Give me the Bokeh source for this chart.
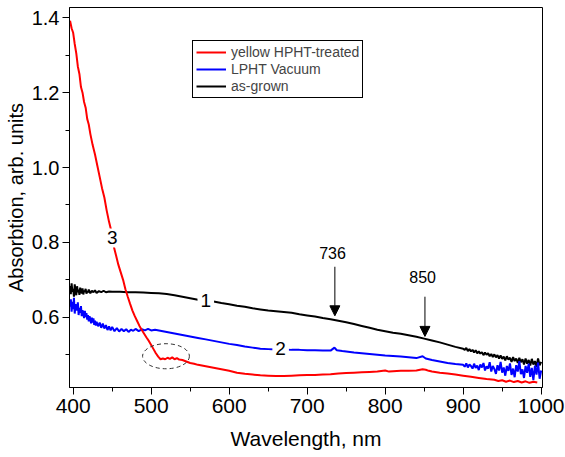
from bokeh.plotting import figure
from bokeh.models import (Range1d, FixedTicker, Label, Legend, LegendItem, Arrow,
                          NormalHead, NumeralTickFormatter)
from bokeh.embed import file_html
from bokeh.resources import INLINE

# ---------------- data ----------------
wl_red = [396, 398, 400, 402, 404, 406, 408, 410, 412, 414, 416, 418, 420, 422, 425, 428, 431, 434, 437,
          440, 443, 446, 449, 452, 455, 458, 461, 464, 467, 470, 473, 476, 479, 482, 485, 488, 491, 494,
          497, 500, 503, 506, 509, 512, 515, 518, 521, 524, 527, 530, 533, 536, 540, 545, 550, 555, 560,
          565, 570, 575, 580, 590, 600, 610, 620, 630, 640, 650, 660, 670, 680, 690, 700, 710, 720, 730,
          740, 750, 760, 770, 780, 790, 800, 805, 810, 820, 830, 840, 848, 852, 856, 860, 870, 880, 890,
          900, 910, 920, 930, 940, 945, 950, 955, 960, 965, 970, 975, 980, 985, 990, 995]
abs_red = [1.392, 1.372, 1.36, 1.33, 1.305, 1.27, 1.25, 1.215, 1.2, 1.175, 1.16, 1.13, 1.115, 1.09, 1.06,
           1.035, 1.005, 0.975, 0.945, 0.92, 0.885, 0.855, 0.83, 0.79, 0.765, 0.74, 0.72, 0.70, 0.675,
           0.655, 0.636, 0.618, 0.603, 0.59, 0.577, 0.566, 0.556, 0.546, 0.537, 0.526, 0.515, 0.504,
           0.495, 0.488, 0.490, 0.488, 0.492, 0.489, 0.493, 0.488, 0.491, 0.487, 0.486, 0.482, 0.478,
           0.476, 0.473, 0.471, 0.469, 0.467, 0.465, 0.461, 0.457, 0.452, 0.449, 0.447, 0.445, 0.444,
           0.443, 0.443, 0.444, 0.445, 0.446, 0.446, 0.447, 0.448, 0.450, 0.451, 0.452, 0.453, 0.454,
           0.455, 0.458, 0.455, 0.456, 0.457, 0.457, 0.458, 0.461, 0.460, 0.457, 0.455, 0.452, 0.450,
           0.447, 0.444, 0.441, 0.438, 0.435, 0.433, 0.430, 0.432, 0.428, 0.431, 0.427, 0.430, 0.426,
           0.429, 0.425, 0.428, 0.426]

wl_blue = [396, 397, 398, 399, 400, 401, 402, 403, 404, 405, 406, 407, 408, 409, 410, 411, 412, 413, 414,
           415, 416, 417, 418, 419, 420, 421, 422, 423, 424, 425, 426, 427, 428, 429, 430, 432, 434, 436,
           438, 440, 442, 444, 446, 448, 450, 453, 456, 459, 462, 465, 468, 471, 474, 477, 480, 484, 488,
           492, 496, 500, 505, 510, 515, 520, 525, 530, 540, 550, 560, 570, 580, 590, 600, 610, 620, 630,
           640, 650, 660, 670, 680, 690, 700, 710, 720, 730, 735, 738, 745, 760, 780, 800, 820, 840, 848,
           852, 860, 870, 880, 890, 900, 902, 904, 906, 908, 910, 912, 914, 916, 918, 920, 922, 924, 926,
           928, 930, 932, 934, 936, 938, 940, 942, 944, 946, 948, 950, 952, 954, 956, 958, 960, 962, 964,
           966, 968, 970, 972, 974, 976, 978, 980, 982, 984, 986, 988, 990, 992, 994, 996, 998, 1000]
abs_blue = [0.628, 0.648, 0.615, 0.641, 0.622, 0.652, 0.610, 0.635, 0.627, 0.618, 0.640, 0.606, 0.625,
            0.612, 0.630, 0.603, 0.619, 0.609, 0.598, 0.617, 0.601, 0.611, 0.594, 0.606, 0.589, 0.603,
            0.595, 0.584, 0.599, 0.586, 0.597, 0.580, 0.591, 0.578, 0.588, 0.576, 0.586, 0.572, 0.583,
            0.570, 0.579, 0.566, 0.576, 0.565, 0.574, 0.563, 0.571, 0.562, 0.569, 0.563, 0.568, 0.561,
            0.567, 0.564, 0.569, 0.563, 0.568, 0.565, 0.569, 0.565, 0.567, 0.565, 0.563, 0.561, 0.559,
            0.557, 0.553, 0.549, 0.545, 0.541, 0.537, 0.533, 0.529, 0.526, 0.522, 0.519, 0.516, 0.515,
            0.514, 0.514, 0.513, 0.513, 0.512, 0.512, 0.511, 0.511, 0.519, 0.512, 0.510, 0.506, 0.502,
            0.498, 0.495, 0.491, 0.496, 0.490, 0.486, 0.482, 0.478, 0.475, 0.473, 0.468, 0.477, 0.466,
            0.474, 0.470, 0.463, 0.476, 0.465, 0.471, 0.459, 0.474, 0.466, 0.478, 0.458, 0.469, 0.463,
            0.480, 0.455, 0.470, 0.462, 0.449, 0.472, 0.458, 0.481, 0.452, 0.466, 0.444, 0.470, 0.457,
            0.477, 0.446, 0.463, 0.440, 0.472, 0.455, 0.483, 0.448, 0.461, 0.438, 0.470, 0.452, 0.476,
            0.441, 0.465, 0.432, 0.471, 0.447, 0.479, 0.436, 0.458]

wl_black = [396, 397, 398, 399, 400, 401, 402, 403, 404, 405, 406, 407, 408, 409, 410, 411, 412, 413, 414,
            415, 416, 417, 418, 419, 420, 422, 424, 426, 428, 430, 433, 436, 439, 442, 446, 450, 460, 470,
            480, 490, 500, 510, 520, 530, 540, 550, 560, 570, 580, 590, 600, 610, 620, 630, 640, 650, 660,
            670, 680, 690, 700, 710, 720, 730, 740, 750, 760, 770, 780, 790, 800, 810, 820, 830, 840, 850,
            860, 870, 880, 890, 900, 902, 904, 906, 908, 910, 912, 914, 916, 918, 920, 922, 924, 926, 928,
            930, 932, 934, 936, 938, 940, 942, 944, 946, 948, 950, 952, 954, 956, 958, 960, 962, 964, 966,
            968, 970, 972, 974, 976, 978, 980, 982, 984, 986, 988, 990, 992, 994, 996, 998, 1000]
abs_black = [0.684, 0.662, 0.691, 0.668, 0.676, 0.655, 0.688, 0.671, 0.659, 0.683, 0.667, 0.674, 0.660,
             0.679, 0.669, 0.664, 0.677, 0.661, 0.672, 0.668, 0.676, 0.663, 0.670, 0.666, 0.674, 0.664,
             0.671, 0.667, 0.672, 0.665, 0.670, 0.667, 0.671, 0.667, 0.669, 0.668, 0.668, 0.667, 0.667,
             0.666, 0.665, 0.664, 0.662, 0.659, 0.655, 0.651, 0.647, 0.645, 0.642, 0.638, 0.635, 0.631,
             0.628, 0.624, 0.621, 0.618, 0.616, 0.614, 0.612, 0.608, 0.605, 0.602, 0.598, 0.595, 0.591,
             0.587, 0.582, 0.577, 0.572, 0.567, 0.563, 0.559, 0.556, 0.552, 0.548, 0.543, 0.538, 0.533,
             0.527, 0.521, 0.516, 0.513, 0.518, 0.510, 0.515, 0.509, 0.513, 0.506, 0.512, 0.504, 0.509,
             0.503, 0.507, 0.499, 0.506, 0.500, 0.504, 0.496, 0.502, 0.494, 0.501, 0.493, 0.499, 0.490,
             0.498, 0.489, 0.495, 0.485, 0.496, 0.487, 0.492, 0.481, 0.494, 0.483, 0.490, 0.478, 0.492,
             0.480, 0.488, 0.474, 0.490, 0.476, 0.486, 0.471, 0.489, 0.474, 0.483, 0.468, 0.490, 0.472,
             0.481]

series_labels = ["yellow HPHT-treated", "LPHT Vacuum", "as-grown"]
x_ticks = [400, 500, 600, 700, 800, 900, 1000]
x_minor = [450, 550, 650, 750, 850, 950]
y_ticks = [0.6, 0.8, 1.0, 1.2, 1.4]
y_minor = [0.5, 0.7, 0.9, 1.1, 1.3]

FONT = "Liberation Sans"

p = figure(width=565, height=457, output_backend="svg", toolbar_location=None,
           x_range=Range1d(395.3, 1001.7), y_range=Range1d(0.4125, 1.4275),
           min_border_left=69, min_border_right=23, min_border_top=7, min_border_bottom=70)
p.background_fill_color = "white"
p.border_fill_color = "white"
p.outline_line_color = "black"
p.outline_line_width = 1
p.outline_line_alpha = 1
p.xgrid.visible = False
p.ygrid.visible = False

for ax in (p.xaxis[0], p.yaxis[0]):
    ax.axis_line_color = "black"
    ax.major_tick_line_color = "black"
    ax.minor_tick_line_color = "black"
    ax.major_tick_in = 0
    ax.major_tick_out = 7
    ax.minor_tick_in = 0
    ax.minor_tick_out = 4
    ax.major_label_text_font = FONT
    ax.major_label_text_color = "black"
    ax.axis_label_text_font = FONT
    ax.axis_label_text_font_style = "normal"
    ax.axis_label_text_color = "black"

p.xaxis.major_label_text_font_size = "21px"
p.xaxis.axis_label_text_font_size = "21px"
p.yaxis.major_label_text_font_size = "20px"
p.yaxis.axis_label_text_font_size = "20px"

p.xaxis.ticker = FixedTicker(ticks=x_ticks, minor_ticks=x_minor)
p.yaxis.ticker = FixedTicker(ticks=y_ticks, minor_ticks=y_minor)
p.yaxis.formatter = NumeralTickFormatter(format="0.0")
p.xaxis.axis_label = "Wavelength, nm"
p.yaxis.axis_label = "Absorbtion, arb. units"
p.xaxis.major_label_standoff = 4
p.yaxis.major_label_standoff = 3
p.xaxis.axis_label_standoff = 11
p.yaxis.axis_label_standoff = 2

r_black = p.line(wl_black, abs_black, line_color="black", line_width=2)
r_blue = p.line(wl_blue, abs_blue, line_color="#0000ff", line_width=2)
r_red = p.line(wl_red, abs_red, line_color="#ff0000", line_width=2)

# dashed ellipse around the 520 nm feature
p.ellipse(x=[519], y=[0.496], width=[60], height=[0.067], fill_color=None,
          line_color="#333333", line_dash="4 3", line_width=1)

# curve numbers
for txt, lx, ly in [("3", 450, 0.812), ("1", 570, 0.645), ("2", 666, 0.516)]:
    p.add_layout(Label(x=lx, y=ly, text=txt, text_align="center", text_baseline="middle",
                       text_font=FONT, text_font_size="19px", text_color="black",
                       background_fill_color="white", padding=3))

# arrows with wavelengths
for txt, ax_x, ys, ye, ty in [("736", 735.5, 0.735, 0.604, 0.773), ("850", 851, 0.655, 0.549, 0.707)]:
    p.add_layout(Arrow(end=NormalHead(size=10, fill_color="black", line_color="black"),
                       x_start=ax_x, y_start=ys, x_end=ax_x, y_end=ye,
                       line_color="black", line_width=1))
    p.add_layout(Label(x=ax_x - 3, y=ty, text=txt, text_align="center", text_baseline="middle",
                       text_font=FONT, text_font_size="16px", text_color="black"))

legend = Legend(items=[LegendItem(label=series_labels[0], renderers=[r_red]),
                       LegendItem(label=series_labels[1], renderers=[r_blue]),
                       LegendItem(label=series_labels[2], renderers=[r_black])],
                location=(123, 289), border_line_color="black", border_line_width=1,
                border_line_alpha=1, padding=3, spacing=1, margin=0,
                glyph_width=30, glyph_height=16, label_height=16, label_standoff=5,
                label_text_font=FONT, label_text_font_size="14px",
                background_fill_color="white", background_fill_alpha=1)
p.add_layout(legend)

open("out.html", "w").write(file_html(p, INLINE))
